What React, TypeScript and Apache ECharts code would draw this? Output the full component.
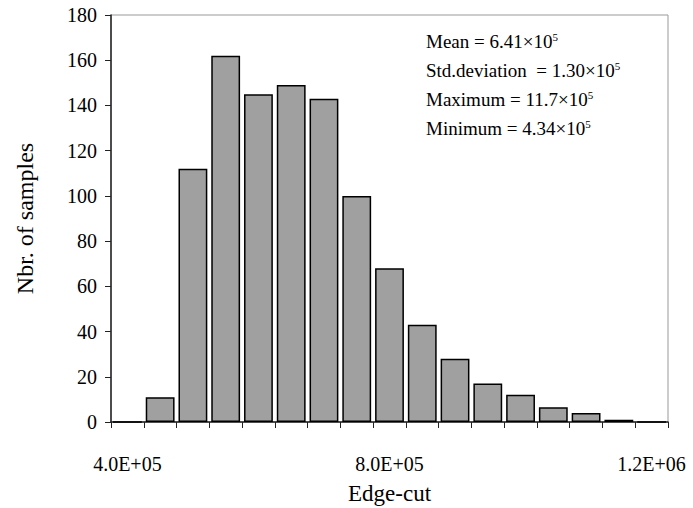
import React, { useEffect, useRef } from "react";
import * as echarts from "echarts";

const binLabels = [
  "4.0E+05", "4.5E+05", "5.0E+05", "5.5E+05", "6.0E+05", "6.5E+05", "7.0E+05", "7.5E+05",
  "8.0E+05", "8.5E+05", "9.0E+05", "9.5E+05", "1.0E+06", "1.05E+06", "1.1E+06", "1.15E+06", "1.2E+06",
];
const counts = [0, 11, 112, 162, 145, 149, 143, 100, 68, 43, 28, 17, 12, 6.5, 4, 1, 0];
const statLines = [
  { label: "Mean = 6.41×10", exp: "5" },
  { label: "Std.deviation  = 1.30×10", exp: "5" },
  { label: "Maximum = 11.7×10", exp: "5" },
  { label: "Minimum = 4.34×10", exp: "5" },
];

const FONT = "Liberation Serif";

export default function App() {
  const ref = useRef<HTMLDivElement>(null);
  useEffect(() => {
    if (!ref.current) return;
    const chart = echarts.init(ref.current, undefined, { renderer: "svg" });
    chart.setOption({
      animation: false,
      backgroundColor: "#fff",
      textStyle: { fontFamily: FONT },
      grid: {
        left: 111, right: 25, top: 15, bottom: 86,
        outerBoundsMode: "none",
        containLabel: false,
        show: true, borderColor: "#999", borderWidth: 1,
      },
      xAxis: {
        type: "category",
        data: binLabels,
        name: "Edge-cut",
        nameLocation: "middle",
        nameGap: 60,
        nameTextStyle: { fontFamily: FONT, fontSize: 23, color: "#000" },
        axisLine: { lineStyle: { color: "#222", width: 1.5 } },
        axisTick: { show: true, interval: 0, length: 6, lineStyle: { color: "#222" } },
        axisLabel: {
          interval: 7, margin: 32, fontFamily: FONT, fontSize: 20, color: "#000",
        },
        splitLine: { show: false },
      },
      yAxis: {
        type: "value",
        min: 0, max: 180, interval: 20,
        name: "Nbr. of samples",
        nameLocation: "middle",
        nameGap: 74,
        nameRotate: 90,
        nameTextStyle: { fontFamily: FONT, fontSize: 24, color: "#000" },
        axisLine: { show: true, lineStyle: { color: "#222", width: 1.5 } },
        axisTick: { show: true, length: 6, lineStyle: { color: "#222" } },
        axisLabel: { margin: 14, fontFamily: FONT, fontSize: 20, color: "#000" },
        splitLine: { show: false },
      },
      series: [
        {
          type: "bar",
          data: counts,
          barCategoryGap: "12%",
          itemStyle: { color: "#a0a0a0", borderColor: "#000", borderWidth: 1.5 },
        },
      ],
      graphic: statLines.map((s, i) => ({
        type: "text",
        left: 426,
        top: 31 + i * 29,
        style: {
          text: `{a|${s.label}}{b|${s.exp}}`,
          rich: {
            a: { fontFamily: FONT, fontSize: 19, fill: "#000", color: "#000" },
            b: { fontFamily: FONT, fontSize: 11, color: "#000", verticalAlign: "top", padding: [0, 0, 10, 0] },
          },
        },
      })),
    });
    return () => chart.dispose();
  }, []);
  return <div ref={ref} style={{ position: "fixed", left: 0, top: 0, width: 693, height: 508 }} />;
}
